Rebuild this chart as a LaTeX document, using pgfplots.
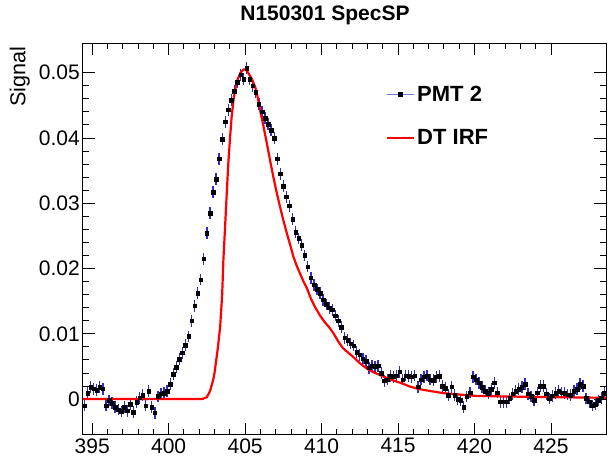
\documentclass[border=0pt]{standalone}
\usepackage{pgfplots}
\pgfplotsset{compat=1.18}
\usepackage{fontspec}
\setmainfont{Liberation Sans}
\definecolor{ebblue}{RGB}{45,45,195}
\definecolor{legblue}{RGB}{120,120,215}
\begin{document}
\begin{tikzpicture}
\begin{axis}[
  scale only axis, width=523pt, height=391.7pt,
  xmin=394.4, xmax=428.6, ymin=-0.0055, ymax=0.0545,
  axis line style={line width=1pt},
  tick align=inside,
  xtick={395,400,405,410,415,420,425},
  xticklabels={395,400,405,410,415,420,425},
  minor x tick num=4,
  ytick={0,0.01,0.02,0.03,0.04,0.05},
  yticklabels={0,0.01,0.02,0.03,0.04,0.05},
  minor y tick num=4,
  major tick length=12pt, minor tick length=6pt,
  tick style={black, line width=0.9pt},
  scaled y ticks=false,
  ticklabel style={font=\fontsize{21}{21}\selectfont},
  yticklabel style={inner xsep=3pt},
  title={N150301 SpecSP},
  title style={at={(rel axis cs:0.4627,1)}, anchor=base, yshift=16.6pt, font=\bfseries\fontsize{21}{22}\selectfont},
  ylabel={Signal},
  ylabel style={at={(rel axis cs:-0.11,1)}, anchor=base east, font=\fontsize{21.6}{22}\selectfont},
  legend style={draw=none, fill=none, at={(rel axis cs:0.579,0.897)}, anchor=north west,
    font=\bfseries\fontsize{22}{22}\selectfont, row sep=23pt, inner sep=0pt},
  legend cell align=left,
]
\addplot[only marks, mark=square*, mark size=1.8pt, black,
  legend image code/.code={\draw[legblue, line width=1.3pt] (0pt,0pt) -- (27pt,0pt); \fill[black] (11.5pt,-2pt) rectangle (15.5pt,2pt);},
  error bars/.cd, y dir=both, y fixed=0.0009, error mark=none,
  error bar style={color=ebblue, line width=1.3pt},
  ] table {
x y
394.5 -0.0010
394.7 0.0009
394.9 0.0018
395.1 0.0016
395.3 0.0014
395.5 0.0018
395.7 0.0016
395.9 -0.0010
396.1 -0.0002
396.3 -0.0006
396.5 -0.0012
396.7 -0.0016
396.9 -0.0019
397.1 -0.0012
397.3 -0.0018
397.5 -0.0008
397.7 -0.0020
397.9 -0.0005
398.1 0.0002
398.3 0.0006
398.5 -0.0010
398.7 0.0012
398.9 -0.0012
399.1 -0.0021
399.3 0.0004
399.5 0.0008
399.7 0.0009
399.9 0.0012
400.1 0.0023
400.3 0.0038
400.5 0.0049
400.7 0.0061
400.9 0.0071
401.1 0.0083
401.3 0.0096
401.5 0.0120
401.7 0.0143
401.9 0.0162
402.1 0.0183
402.3 0.0215
402.5 0.0254
402.7 0.0285
402.9 0.0317
403.1 0.0337
403.3 0.0368
403.5 0.0398
403.7 0.0425
403.9 0.0443
404.1 0.0458
404.3 0.0472
404.5 0.0485
404.7 0.0497
404.9 0.0490
405.1 0.0507
405.3 0.0490
405.5 0.0480
405.7 0.0470
405.9 0.0452
406.1 0.0440
406.3 0.0430
406.5 0.0421
406.7 0.0412
406.9 0.0400
407.1 0.0368
407.3 0.0345
407.5 0.0326
407.7 0.0310
407.9 0.0296
408.1 0.0276
408.3 0.0256
408.5 0.0246
408.7 0.0236
408.9 0.0220
409.1 0.0203
409.3 0.0186
409.5 0.0175
409.7 0.0168
409.9 0.0162
410.1 0.0152
410.3 0.0145
410.5 0.0140
410.7 0.0137
410.9 0.0128
411.1 0.0120
411.3 0.0110
411.5 0.0094
411.7 0.0090
411.9 0.0085
412.1 0.0082
412.3 0.0072
412.5 0.0068
412.7 0.0062
412.9 0.0058
413.1 0.0048
413.3 0.0051
413.5 0.0050
413.7 0.0051
413.9 0.0040
414.1 0.0028
414.3 0.0030
414.5 0.0035
414.7 0.0034
414.9 0.0036
415.1 0.0042
415.3 0.0030
415.5 0.0036
415.7 0.0035
415.9 0.0034
416.1 0.0036
416.3 0.0019
416.5 0.0030
416.7 0.0034
416.9 0.0036
417.1 0.0030
417.3 0.0029
417.5 0.0034
417.7 0.0035
417.9 0.0020
418.1 0.0017
418.3 0.0006
418.5 0.0019
418.7 0.0006
418.9 0.0000
419.1 -0.0002
419.3 -0.0012
419.5 0.0004
419.7 0.0010
419.9 0.0034
420.1 0.0030
420.3 0.0025
420.5 0.0018
420.7 0.0012
420.9 0.0009
421.1 0.0015
421.3 0.0025
421.5 0.0010
421.7 -0.0004
421.9 -0.0004
422.1 -0.0004
422.3 0.0001
422.5 0.0008
422.7 0.0012
422.9 0.0015
423.1 0.0018
423.3 0.0023
423.5 0.0008
423.7 0.0004
423.9 -0.0002
424.1 0.0010
424.3 0.0020
424.5 0.0020
424.7 0.0008
424.9 0.0001
425.1 0.0005
425.3 0.0009
425.5 0.0012
425.7 0.0010
425.9 0.0009
426.1 0.0007
426.3 0.0006
426.5 0.0012
426.7 0.0015
426.9 0.0023
427.1 0.0020
427.3 0.0001
427.5 -0.0004
427.7 -0.0010
427.9 -0.0008
428.1 -0.0002
428.3 0.0002
428.5 0.0009
};
\addlegendentry{PMT 2}
\addplot[red, line width=2.2pt, line join=round,
  legend image code/.code={\draw[red, line width=2.2pt] (0pt,0pt) -- (27pt,0pt);}] table {
x y
394.4 0
402.2 0
402.5 0.0003
402.7 0.0012
402.9 0.0028
403.0 0.0040
403.2 0.0075
403.37 0.0111
403.5 0.0160
403.58 0.0213
403.7 0.0268
403.8 0.0315
403.9 0.0360
404.02 0.0402
404.12 0.0432
404.24 0.0458
404.37 0.0476
404.5 0.0489
404.7 0.0500
404.9 0.0505
405.05 0.0505
405.22 0.0499
405.45 0.0490
405.66 0.0478
405.8 0.0465
405.98 0.0443
406.2 0.0418
406.42 0.0392
406.63 0.0366
406.85 0.0340
407.07 0.0316
407.29 0.0294
407.5 0.0274
407.73 0.0254
407.95 0.0236
408.16 0.0218
408.38 0.0204
408.6 0.0192
408.82 0.0180
409.04 0.0170
409.3 0.0154
409.6 0.0140
409.9 0.0128
410.2 0.0118
410.5 0.0110
410.8 0.0100
411.1 0.0088
411.4 0.0078
411.8 0.0070
412.1 0.0064
412.5 0.0055
413.0 0.0046
413.5 0.0040
414.0 0.0035
414.5 0.0030
415.15 0.0025
415.8 0.0019
416.45 0.0015
417.2 0.0012
418.0 0.0009
419.0 0.0007
420.0 0.0005
422.0 0.0004
425.0 0.0003
428.6 0.0002
};
\addlegendentry{DT IRF}
\end{axis}
\path ([xshift=-83pt,yshift=-27pt]current axis.south west) rectangle ([xshift=4pt,yshift=43.3pt]current axis.north east);
\end{tikzpicture}
\end{document}
